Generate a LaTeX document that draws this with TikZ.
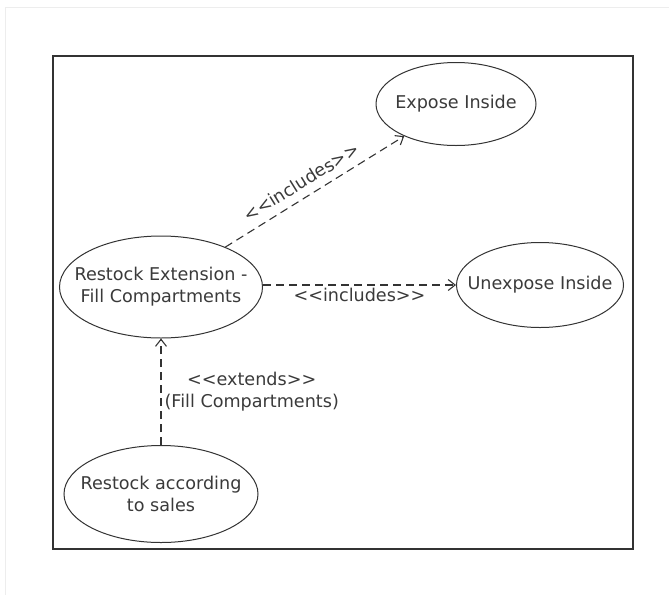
\documentclass[tikz,border=0pt]{standalone}
\usepackage{fontspec}
\setmainfont{DejaVu Sans}
\usetikzlibrary{shapes.geometric,arrows.meta}
\definecolor{ink}{HTML}{3A3A3A}
\definecolor{edge}{HTML}{333333}
\definecolor{pagerule}{HTML}{EDEDED}
\begin{document}
\begin{tikzpicture}[x=1pt,y=-1pt,
  txt/.style={font=\fontsize{17.6}{22}\selectfont,text=ink},
  usecase/.style={ellipse,draw=edge,line width=1pt,inner sep=0pt},
  casetext/.style={txt,align=center,inner sep=0pt},
  dep/.style={draw=edge,line width=1.1pt,dash pattern=on 8pt off 5pt,
    -{Straight Barb[length=7pt,width=11pt,line width=1.1pt]}},
  lbl/.style={txt,inner sep=2pt}]
  \useasboundingbox (0,0) rectangle (669,595);
  % page rule
  \draw[pagerule,line width=1pt] (5,595) -- (5,7) -- (669,7);
  % system boundary
  \draw[edge,line width=1.8pt] (53,56) rectangle (633,549);
  % use cases: fixed-size ellipses with their captions centred inside
  \node[usecase,minimum width=160pt,minimum height=83pt] (expose) at (456,104) {};
  \node[casetext] (expose-text) at (expose) {Expose Inside};
  \node[usecase,minimum width=167pt,minimum height=85pt] (unexpose) at (540,285) {};
  \node[casetext] (unexpose-text) at (unexpose) {Unexpose Inside};
  \node[usecase,minimum width=203pt,minimum height=102pt] (rext) at (161,287) {};
  \node[casetext] (rext-text) at (rext) {Restock Extension -\\Fill Compartments};
  \node[usecase,minimum width=194pt,minimum height=97pt] (sales) at (161,494) {};
  \node[casetext] (sales-text) at (sales) {Restock according\\to sales};
  % relationships
  \draw[dep] (rext) -- node[lbl,sloped,above=6pt,pos=0.47] {<{}<includes>{}>} (expose);
  \draw[dep] (rext.east |- 0,285) -- node[lbl,below=1pt] {<{}<includes>{}>} (unexpose.west);
  \draw[dep] (sales) -- node[lbl,right=1pt,align=center] {<{}<extends>{}>\\(Fill Compartments)} (rext);
\end{tikzpicture}
\end{document}
